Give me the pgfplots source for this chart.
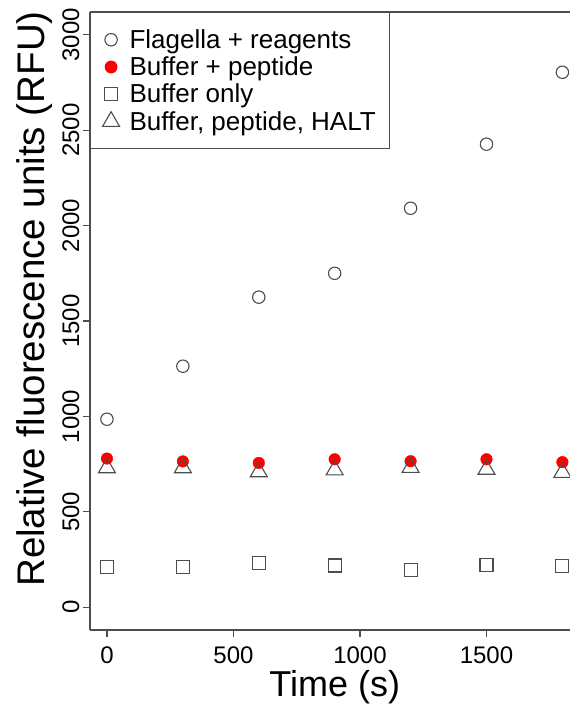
\documentclass[border=0pt]{standalone}
\usepackage{pgfplots}
\pgfplotsset{compat=1.18}
\usepackage{fontspec}
\setmainfont{Liberation Sans}
\definecolor{axgray}{HTML}{4D4D4D}
\begin{document}
\begin{tikzpicture}
\begin{axis}[
  scale only axis, width=480pt, height=618pt,
  xmin=-67, xmax=1830, ymin=-120, ymax=3120,
  clip=false,
  axis lines=left,
  axis line style={-, line width=1.2pt, axgray},
  xtick={0,500,1000,1500}, ytick={0,500,...,3000},
  tick align=outside, major tick length=7pt,
  tick style={line width=1.2pt, axgray},
  /pgf/number format/assume math mode=true,
  /pgf/number format/set thousands separator={},
  ticklabel style={font=\fontsize{24}{28}\selectfont},
  xticklabel style={yshift=-6pt},
  yticklabel style={rotate=90, anchor=south},
  xlabel={Time (s)},
  ylabel={Relative fluorescence units (RFU)},
  xlabel style={font=\fontsize{36}{40}\selectfont, at={(axis description cs:0.51,-0.092)}, anchor=center},
  ylabel style={font=\fontsize{38.5}{42}\selectfont, at={(axis description cs:-0.115,0.5356)}, anchor=center, rotate=0},
  legend style={at={(0,1)}, anchor=north west, draw=axgray, line width=1.2pt,
    font=\fontsize{26}{28}\selectfont, cells={anchor=west}, row sep=2.9pt,
    inner xsep=12pt, inner ysep=15pt,
    /tikz/every odd column/.append style={column sep=8pt}},
  legend cell align=left,
]
\addplot[only marks, mark=o, mark size=6.2pt, mark options={line width=1.1pt, draw=axgray}]
  coordinates {(0,985)(300,1263)(600,1625)(900,1750)(1200,2091)(1500,2427)(1800,2804)};
\addlegendentry{Flagella + reagents}
\addplot[only marks, mark=*, mark size=5.8pt, mark options={draw=red, fill=red}]
  coordinates {(0,779)(300,764)(600,756)(900,775)(1200,765)(1500,775)(1800,760)};
\addlegendentry{Buffer + peptide}
\addplot[only marks, mark=square, mark size=6.5pt, mark options={line width=1.1pt, draw=axgray}]
  coordinates {(0,211)(300,211)(600,232)(900,218)(1200,194)(1500,220)(1800,215)};
\addlegendentry{Buffer only}
\addplot[only marks, mark=triangle, mark size=9.8pt, mark options={line width=1.1pt, draw=axgray}]
  coordinates {(0,730)(300,730)(600,709)(900,719)(1200,732)(1500,722)(1800,706)};
\addlegendentry{Buffer, peptide, HALT}
\draw[line width=1.2pt, axgray] (rel axis cs:0,1) -- (rel axis cs:1,1);
\end{axis}
\pgfresetboundingbox
\useasboundingbox (-90pt,-75pt) rectangle (480pt,630pt);
\end{tikzpicture}
\end{document}
